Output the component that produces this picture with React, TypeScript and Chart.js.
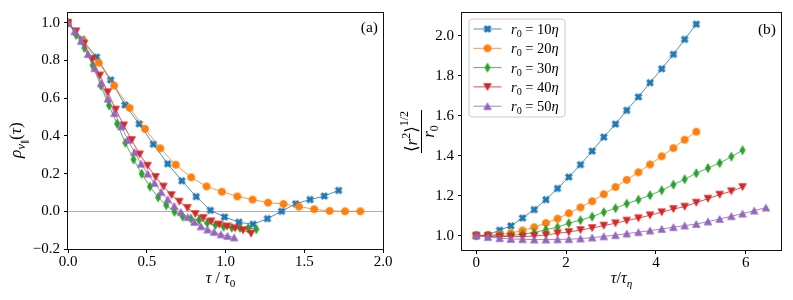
import React, { useEffect, useRef } from 'react';
import { Chart, registerables } from 'chart.js';

Chart.register(...registerables);

const FONT = '"Liberation Serif", "DejaVu Serif", serif';

// ---------- data: panel (a) ----------
const tauA_blue = [0, 0.09, 0.181, 0.271, 0.362, 0.452, 0.542, 0.633, 0.723, 0.814, 0.904, 0.994, 1.085, 1.175, 1.266, 1.356, 1.446, 1.537, 1.627, 1.718];
const tauA_orange = [0, 0.098, 0.195, 0.293, 0.391, 0.489, 0.586, 0.684, 0.782, 0.879, 0.977, 1.075, 1.172, 1.27, 1.368, 1.466, 1.563, 1.661, 1.759, 1.856];
const tauA_green = [0, 0.052, 0.104, 0.156, 0.208, 0.26, 0.312, 0.364, 0.416, 0.468, 0.52, 0.572, 0.624, 0.676, 0.728, 0.78, 0.832, 0.884, 0.936, 0.988, 1.04, 1.092, 1.144, 1.196];
const tauA_red = [0, 0.051, 0.101, 0.152, 0.202, 0.253, 0.303, 0.354, 0.404, 0.455, 0.505, 0.556, 0.606, 0.657, 0.707, 0.758, 0.808, 0.859, 0.909, 0.96, 1.01, 1.061, 1.111, 1.162];
const tauA_purple = [0, 0.042, 0.084, 0.127, 0.169, 0.211, 0.253, 0.295, 0.338, 0.38, 0.422, 0.464, 0.506, 0.549, 0.591, 0.633, 0.675, 0.717, 0.76, 0.802, 0.844, 0.886, 0.928, 0.971, 1.013, 1.055];

const rhoBlue = [1.0, 0.912, 0.818, 0.697, 0.564, 0.464, 0.356, 0.252, 0.162, 0.078, 0.005, -0.03, -0.058, -0.069, -0.039, 0.0, 0.04, 0.062, 0.081, 0.111];
const rhoOrange = [1.0, 0.903, 0.788, 0.667, 0.549, 0.437, 0.334, 0.247, 0.18, 0.132, 0.104, 0.079, 0.062, 0.046, 0.039, 0.025, 0.011, 0.002, 0.0, 0.0];
const rhoGreen = [1.0, 0.935, 0.866, 0.774, 0.667, 0.562, 0.464, 0.363, 0.275, 0.199, 0.131, 0.074, 0.032, -0.003, -0.028, -0.039, -0.046, -0.062, -0.073, -0.082, -0.087, -0.088, -0.089, -0.095];
const rhoRed = [1.0, 0.955, 0.89, 0.808, 0.721, 0.632, 0.54, 0.456, 0.378, 0.302, 0.242, 0.182, 0.131, 0.086, 0.051, 0.018, -0.014, -0.035, -0.053, -0.07, -0.08, -0.09, -0.1, -0.118];
const rhoPurple = [1.0, 0.954, 0.903, 0.834, 0.759, 0.679, 0.597, 0.521, 0.45, 0.379, 0.314, 0.252, 0.199, 0.15, 0.102, 0.063, 0.028, -0.005, -0.031, -0.057, -0.08, -0.097, -0.11, -0.123, -0.131, -0.139];

// ---------- data: panel (b) ----------
const tauEta = [0, 0.26, 0.52, 0.77, 1.03, 1.29, 1.55, 1.81, 2.06, 2.32, 2.58, 2.84, 3.1, 3.35, 3.61, 3.87, 4.13, 4.39, 4.64, 4.9, 5.16, 5.42, 5.68, 5.93, 6.19, 6.45];

const sepBlue = [1.0, 1.004, 1.027, 1.049, 1.088, 1.13, 1.18, 1.236, 1.293, 1.355, 1.423, 1.493, 1.558, 1.627, 1.694, 1.765, 1.835, 1.907, 1.982, 2.058];
const sepOrange = [1.0, 1.002, 1.006, 1.012, 1.026, 1.042, 1.063, 1.085, 1.112, 1.141, 1.172, 1.207, 1.243, 1.279, 1.317, 1.356, 1.397, 1.438, 1.48, 1.52];
const sepGreen = [1.0, 1.0, 0.998, 1.0, 1.007, 1.015, 1.03, 1.042, 1.062, 1.077, 1.095, 1.117, 1.137, 1.16, 1.18, 1.202, 1.227, 1.255, 1.282, 1.312, 1.338, 1.363, 1.395, 1.427];
const sepRed = [1.0, 0.998, 0.995, 0.995, 0.995, 0.998, 1.003, 1.012, 1.018, 1.028, 1.038, 1.05, 1.062, 1.075, 1.087, 1.102, 1.117, 1.133, 1.145, 1.165, 1.185, 1.205, 1.222, 1.243];
const sepPurple = [1.0, 0.993, 0.987, 0.983, 0.982, 0.98, 0.98, 0.981, 0.982, 0.985, 0.99, 0.996, 1.002, 1.01, 1.017, 1.025, 1.033, 1.042, 1.05, 1.058, 1.07, 1.083, 1.097, 1.11, 1.125, 1.14];

// ---------- series meta / ticks ----------
const r0Values = ['10', '20', '30', '40', '50'];
const COLORS = ['#1f77b4', '#ff7f0e', '#2ca02c', '#d62728', '#9467bd'];
const LINE_COLORS = ['rgba(31,119,180,0.8)', 'rgba(255,127,14,0.8)', 'rgba(44,160,44,0.8)', 'rgba(214,39,40,0.8)', 'rgba(148,103,189,0.8)'];
const MARKERS = ['X', 'o', 'd', 'v', '^'];

const xTicksA = [0, 0.5, 1.0, 1.5, 2.0];
const yTicksA = [-0.2, 0, 0.2, 0.4, 0.6, 0.8, 1.0];
const xTicksB = [0, 2, 4, 6];
const yTicksB = [1.0, 1.2, 1.4, 1.6, 1.8, 2.0];

type Seg = { t: string; it?: boolean; dy?: number; s?: number };

function segFont(s: Seg, size: number) {
  return `${s.it ? 'italic ' : ''}${(size * (s.s ?? 1)).toFixed(1)}px ${FONT}`;
}
function richWidth(ctx: CanvasRenderingContext2D, segs: Seg[], size: number) {
  let w = 0;
  for (const s of segs) {
    ctx.font = segFont(s, size);
    w += ctx.measureText(s.t).width;
  }
  return w;
}
function drawRich(ctx: CanvasRenderingContext2D, segs: Seg[], x: number, y: number, size: number, align: 'left' | 'center' | 'right' = 'left') {
  const w = richWidth(ctx, segs, size);
  let cx = align === 'center' ? x - w / 2 : align === 'right' ? x - w : x;
  ctx.textAlign = 'left';
  ctx.textBaseline = 'alphabetic';
  for (const s of segs) {
    ctx.font = segFont(s, size);
    ctx.fillText(s.t, cx, y + (s.dy ?? 0) * size);
    cx += ctx.measureText(s.t).width;
  }
  return w;
}

function makeMarker(kind: string, color: string): HTMLCanvasElement {
  const c = document.createElement('canvas');
  const S = 12;
  c.width = S;
  c.height = S;
  const g = c.getContext('2d')!;
  g.translate(S / 2, S / 2);
  g.fillStyle = color;
  g.strokeStyle = color;
  g.lineWidth = 0.8;
  g.lineJoin = 'miter';
  g.beginPath();
  if (kind === 'o') {
    g.arc(0, 0, 3.6, 0, Math.PI * 2);
  } else if (kind === 'X') {
    const L = 3.7, w = 1.25;
    const pts = [[w, L], [w, w], [L, w], [L, -w], [w, -w], [w, -L], [-w, -L], [-w, -w], [-L, -w], [-L, w], [-w, w], [-w, L]];
    const a = Math.PI / 4;
    pts.forEach(([px, py], i) => {
      const rx = px * Math.cos(a) - py * Math.sin(a);
      const ry = px * Math.sin(a) + py * Math.cos(a);
      if (i === 0) g.moveTo(rx, ry); else g.lineTo(rx, ry);
    });
  } else if (kind === 'd') {
    g.moveTo(0, -4.4); g.lineTo(2.6, 0); g.lineTo(0, 4.4); g.lineTo(-2.6, 0);
  } else if (kind === 'v') {
    g.moveTo(-3.7, -3.3); g.lineTo(3.7, -3.3); g.lineTo(0, 3.4);
  } else {
    g.moveTo(0, -3.4); g.lineTo(3.7, 3.3); g.lineTo(-3.7, 3.3);
  }
  g.closePath();
  g.fill();
  g.stroke();
  return c;
}

const minus = (s: string) => s.replace('-', '\u2212');

function makeDatasets(xs: number[][], ys: number[][], markers: HTMLCanvasElement[]) {
  return ys.map((yy, k) => ({
    label: `r0 = ${r0Values[k]}η`,
    data: yy.map((y, i) => ({ x: xs[k][i], y })),
    showLine: true,
    borderColor: LINE_COLORS[k],
    borderWidth: 1,
    pointStyle: markers[k] as any,
    pointRadius: 4,
    pointHoverRadius: 4,
    tension: 0,
    order: 4 - k,
  }));
}

function axisCfg(min: number, max: number, ticks: number[], fmt: (v: number) => string, fitKey: 'width' | 'height', fitVal: number, pad: number) {
  return {
    type: 'linear' as const,
    min,
    max,
    bounds: 'data' as const,
    afterBuildTicks: (s: any) => {
      s.ticks = ticks.map((v) => ({ value: v }));
    },
    afterFit: (s: any) => {
      s[fitKey] = fitVal;
    },
    ticks: {
      autoSkip: false,
      maxRotation: 0,
      minRotation: 0,
      padding: pad,
      color: '#000',
      font: { family: FONT, size: 15 },
      callback: (v: any) => fmt(Number(v)),
    },
    grid: {
      display: true,
      drawOnChartArea: false,
      drawTicks: true,
      tickLength: 4,
      tickColor: '#000',
      tickWidth: 1,
      color: '#000',
    },
    border: { display: false },
  };
}

function frame(ctx: CanvasRenderingContext2D, ca: any) {
  ctx.save();
  ctx.strokeStyle = '#111';
  ctx.lineWidth = 1;
  ctx.strokeRect(Math.round(ca.left) - 0.5, Math.round(ca.top) - 0.5, Math.round(ca.right - ca.left) + 1, Math.round(ca.bottom - ca.top) + 1);
  ctx.restore();
}

export default function App() {
  const refA = useRef<HTMLCanvasElement>(null);
  const refB = useRef<HTMLCanvasElement>(null);

  useEffect(() => {
    const markers = MARKERS.map((m, k) => makeMarker(m, COLORS[k]));

    const decoA = {
      id: 'decoA',
      beforeDatasetsDraw(chart: any) {
        const { ctx, chartArea: ca } = chart;
        const y0 = chart.scales.y.getPixelForValue(0);
        ctx.save();
        ctx.strokeStyle = '#b0b0b0';
        ctx.lineWidth = 1;
        ctx.beginPath();
        ctx.moveTo(ca.left, Math.round(y0) + 0.5);
        ctx.lineTo(ca.right, Math.round(y0) + 0.5);
        ctx.stroke();
        ctx.restore();
      },
      afterDraw(chart: any) {
        const { ctx, chartArea: ca } = chart;
        frame(ctx, ca);
        ctx.save();
        ctx.fillStyle = '#000';
        drawRich(ctx, [{ t: '(a)' }], ca.right - 5, ca.top + 19, 15.5, 'right');
        // x title
        drawRich(ctx, [{ t: 'τ', it: true }, { t: ' / ' }, { t: 'τ', it: true }, { t: '0', dy: 0.22, s: 0.7 }], (ca.left + ca.right) / 2 - 5, 283, 16, 'center');
        // y title (rotated)
        ctx.translate(21, (ca.top + ca.bottom) / 2 + 9);
        ctx.rotate(-Math.PI / 2);
        drawRich(ctx, [
          { t: 'ρ', it: true },
          { t: 'v', it: true, dy: 0.25, s: 0.7 },
          { t: '∥', dy: 0.4, s: 0.5 },
          { t: '(' },
          { t: 'τ', it: true },
          { t: ')' },
        ], 0, 0, 17.5, 'center');
        ctx.restore();
      },
    };

    const decoB = {
      id: 'decoB',
      afterDraw(chart: any) {
        const { ctx, chartArea: ca } = chart;
        frame(ctx, ca);
        ctx.save();
        ctx.fillStyle = '#000';
        drawRich(ctx, [{ t: '(b)' }], ca.right - 5, ca.top + 21, 15.5, 'right');
        drawRich(ctx, [{ t: 'τ', it: true }, { t: '/' }, { t: 'τ', it: true }, { t: 'η', it: true, dy: 0.22, s: 0.7 }], (ca.left + ca.right) / 2, 283, 16, 'center');

        // legend
        const bx = ca.left + 7, by = ca.top + 6, bw = 96, bh = 98;
        ctx.save();
        ctx.beginPath();
        const r = 3;
        ctx.moveTo(bx + r, by);
        ctx.lineTo(bx + bw - r, by);
        ctx.arcTo(bx + bw, by, bx + bw, by + r, r);
        ctx.lineTo(bx + bw, by + bh - r);
        ctx.arcTo(bx + bw, by + bh, bx + bw - r, by + bh, r);
        ctx.lineTo(bx + r, by + bh);
        ctx.arcTo(bx, by + bh, bx, by + bh - r, r);
        ctx.lineTo(bx, by + r);
        ctx.arcTo(bx, by, bx + r, by, r);
        ctx.closePath();
        ctx.fillStyle = 'rgba(255,255,255,0.85)';
        ctx.fill();
        ctx.strokeStyle = '#cccccc';
        ctx.lineWidth = 1;
        ctx.stroke();
        ctx.restore();
        r0Values.forEach((v, k) => {
          const cy = by + 10 + k * 19.3;
          ctx.strokeStyle = LINE_COLORS[k];
          ctx.lineWidth = 1;
          ctx.beginPath();
          ctx.moveTo(bx + 4.5, cy);
          ctx.lineTo(bx + 32.5, cy);
          ctx.stroke();
          ctx.drawImage(markers[k], bx + 18.5 - 6, cy - 6);
          ctx.fillStyle = '#000';
          drawRich(ctx, [{ t: 'r', it: true }, { t: '0', dy: 0.22, s: 0.7 }, { t: ' = ' + v }, { t: 'η', it: true }], bx + 42, cy + 5, 14.5, 'left');
        });

        // y title: fraction, rotated
        ctx.translate(25.5, (ca.top + ca.bottom) / 2);
        ctx.rotate(-Math.PI / 2);
        ctx.fillStyle = '#000';
        const num: Seg[] = [
          { t: '⟨' },
          { t: 'r', it: true },
          { t: '2', dy: -0.36, s: 0.7 },
          { t: '⟩' },
          { t: '1/2', dy: -0.48, s: 0.7 },
        ];
        const den: Seg[] = [{ t: 'r', it: true }, { t: '0', dy: 0.22, s: 0.7 }];
        const fs = 17;
        const wn = richWidth(ctx, num, fs);
        drawRich(ctx, num, 0, -5, fs, 'center');
        drawRich(ctx, den, 0, 12.5, fs, 'center');
        ctx.fillRect(-wn / 2 - 1, -0.5, wn + 2, 1);
        ctx.restore();
      },
    };

    const chartA = new Chart(refA.current!, {
      type: 'scatter',
      data: {
        datasets: makeDatasets(
          [tauA_blue, tauA_orange, tauA_green, tauA_red, tauA_purple],
          [rhoBlue, rhoOrange, rhoGreen, rhoRed, rhoPurple],
          markers
        ) as any,
      },
      options: {
        animation: false,
        responsive: false,
        devicePixelRatio: 1,
        events: [],
        layout: { padding: { top: 13, right: 13, left: 0, bottom: 0 } },
        plugins: { legend: { display: false }, tooltip: { enabled: false } },
        scales: {
          x: axisCfg(0, 2, xTicksA, (v) => v.toFixed(1), 'height', 51, 0) as any,
          y: axisCfg(-0.2, 1.052, yTicksA, (v) => minus(v.toFixed(1)), 'width', 68, 4) as any,
        },
      },
      plugins: [decoA],
    });

    const chartB = new Chart(refB.current!, {
      type: 'scatter',
      data: {
        datasets: makeDatasets(
          [tauEta, tauEta, tauEta, tauEta, tauEta],
          [sepBlue, sepOrange, sepGreen, sepRed, sepPurple],
          markers
        ) as any,
      },
      options: {
        animation: false,
        responsive: false,
        devicePixelRatio: 1,
        events: [],
        layout: { padding: { top: 13, right: 12, left: 0, bottom: 0 } },
        plugins: { legend: { display: false }, tooltip: { enabled: false } },
        scales: {
          x: axisCfg(-0.318, 6.786, xTicksB, (v) => v.toFixed(0), 'height', 50, 0) as any,
          y: axisCfg(0.928, 2.114, yTicksB, (v) => v.toFixed(1), 'width', 66, 4) as any,
        },
      },
      plugins: [decoB],
    });

    return () => {
      chartA.destroy();
      chartB.destroy();
    };
  }, []);

  return (
    <div style={{ position: 'fixed', left: 0, top: 0, width: 793, height: 300, background: '#fff' }}>
      <canvas ref={refA} width={396} height={300} style={{ position: 'absolute', left: 0, top: 0, width: 396, height: 300 }} />
      <canvas ref={refB} width={397} height={300} style={{ position: 'absolute', left: 396, top: 0, width: 397, height: 300 }} />
    </div>
  );
}
